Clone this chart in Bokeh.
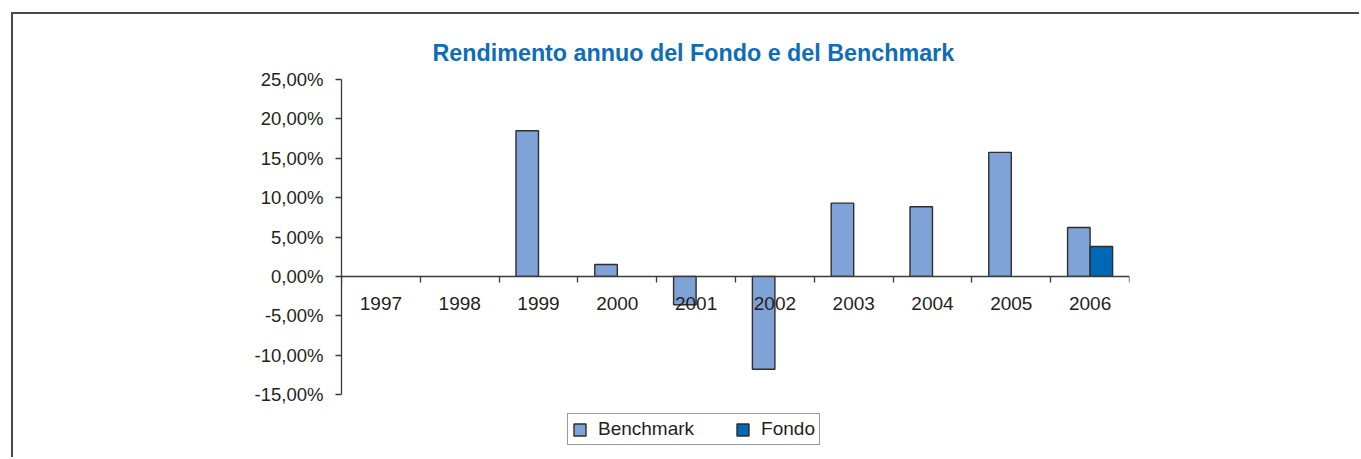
from bokeh.plotting import figure
from bokeh.models import (ColumnDataSource, FactorRange, Range1d, LinearAxis, FixedTicker,
                          Legend, LegendItem, Title, CategoricalAxis)
from bokeh.transform import dodge
from bokeh.embed import file_html
from bokeh.resources import INLINE

# ---- data ----
years = ["1997", "1998", "1999", "2000", "2001", "2002", "2003", "2004", "2005", "2006"]
benchmark = [None, None, 18.5, 1.5, -3.6, -11.8, 9.3, 8.85, 15.75, 6.2]
fondo = [None, None, None, None, None, None, None, None, None, 3.8]
y_ticks = [-15, -10, -5, 0, 5, 10, 15, 20, 25]
title_text = "Rendimento annuo del Fondo e del Benchmark"
series_names = ["Benchmark", "Fondo"]

FONT = "Liberation Sans"
TXT = "#231f20"
AX = "#3a3a3a"
BENCH_C = "#7fa3d6"
FONDO_C = "#0068b4"
TITLE_C = "#0f6cb6"

def pairs(vals):
    xs = [y for y, v in zip(years, vals) if v is not None]
    ts = [v for v in vals if v is not None]
    return ColumnDataSource(dict(x=xs, top=ts))

src_b = pairs(benchmark)
src_f = pairs(fondo)

# layout (pixels)
W, H = 1348, 445
B_LEFT, B_RIGHT, B_TOP, B_BOTTOM = 328, 232, 65, 5
AXIS_PX = 315                      # pixel height of the y axis span (-15..25)
frame_h = H - B_TOP - B_BOTTOM
px_per_unit = AXIS_PX / (y_ticks[-1] - y_ticks[0])
y_start = y_ticks[-1] - frame_h / px_per_unit   # extra room under the axis for the legend

p = figure(width=W, height=H, output_backend="svg", toolbar_location=None,
           x_range=FactorRange(*years, range_padding=0),
           y_range=Range1d(y_start, y_ticks[-1]),
           min_border_left=B_LEFT, min_border_right=B_RIGHT, min_border_top=B_TOP,
           min_border_bottom=B_BOTTOM, x_axis_location=None)
p.margin = (12, 0, 0, 11)
p.styles = {"border-left": "2px solid #4a4a4a", "border-top": "2px solid #4a4a4a"}
p.title = Title(text=title_text, align="left", offset=91, text_font=FONT, text_font_size="23.3px",
                text_font_style="bold", text_color=TITLE_C, standoff=27)
p.outline_line_color = None
p.grid.visible = False
p.background_fill_color = "white"
p.border_fill_color = "white"

bw = 2 / 7
rb = p.vbar(x=dodge("x", -bw / 2, range=p.x_range), top="top", bottom=0, width=bw, source=src_b,
            fill_color=BENCH_C, line_color="#2e2e2e", line_width=1.4)
rf = p.vbar(x=dodge("x", bw / 2, range=p.x_range), top="top", bottom=0, width=bw, source=src_f,
            fill_color=FONDO_C, line_color="#2e2e2e", line_width=1.4)

# y axis
ya = p.yaxis[0]
ya.bounds = (y_ticks[0], y_ticks[-1])
ya.ticker = FixedTicker(ticks=y_ticks)
ya.major_label_overrides = {t: f"{t:.2f}%".replace(".", ",") for t in y_ticks}
ya.major_label_text_font = FONT
ya.major_label_text_font_size = "18.5px"
ya.major_label_text_color = TXT
ya.axis_line_color = AX
ya.axis_line_width = 1.3
ya.major_tick_line_color = AX
ya.major_tick_line_width = 1.3
ya.major_tick_out = 6
ya.major_tick_in = 0
ya.minor_tick_line_color = None
ya.major_label_standoff = 12

# x axis line at zero with ticks on category boundaries (synthetic coordinates 0..n)
tick_axis = LinearAxis(ticker=FixedTicker(ticks=[], minor_ticks=list(range(len(years) + 1))),
                       fixed_location=0, axis_line_color=AX, axis_line_width=1.3,
                       major_tick_line_color=None, minor_tick_line_color=AX,
                       minor_tick_line_width=1.3, minor_tick_out=6, minor_tick_in=0)
p.add_layout(tick_axis, "below")
cat_axis = CategoricalAxis(fixed_location=0, axis_line_color=None, major_tick_line_color=None,
                           major_tick_out=0, major_tick_in=0,
                           major_label_text_font=FONT, major_label_text_font_size="19px",
                           major_label_text_color=TXT, major_label_standoff=21)
p.add_layout(cat_axis, "below")

# legend
legend = Legend(items=[LegendItem(label=series_names[0], renderers=[rb]),
                       LegendItem(label=series_names[1], renderers=[rf])],
                orientation="horizontal", location=(226, 9),
                label_text_font=FONT, label_text_font_size="19px", label_text_color=TXT,
                glyph_width=15, glyph_height=15, label_standoff=11, spacing=41,
                padding=4, margin=0, border_line_color="#333333", border_line_width=1.5,
                background_fill_color="white")
p.add_layout(legend, "center")

open("out.html", "w").write(file_html(p, INLINE))
